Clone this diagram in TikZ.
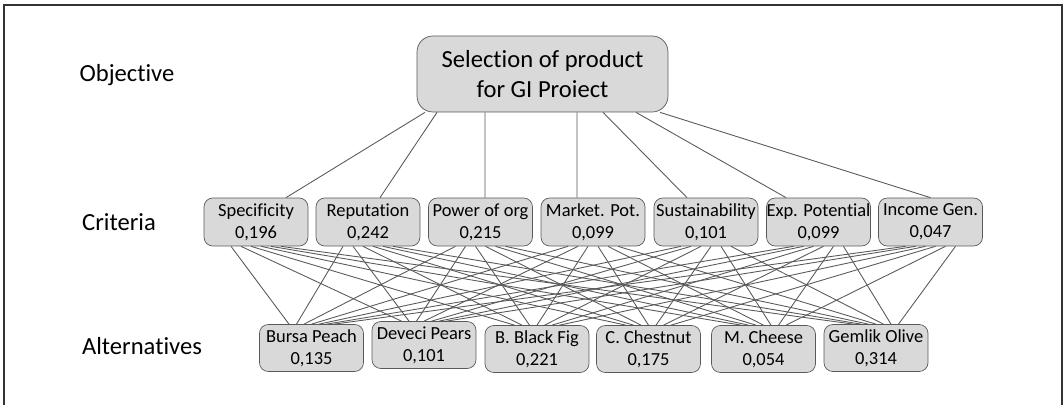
\documentclass[tikz,border=0pt]{standalone}
\usepackage{fontspec}
\setmainfont[Ligatures=NoCommon]{Carlito}
\tikzstyle{crit} = [draw=black!65, fill=gray!30, rounded corners=5pt, minimum width=2.08cm, minimum height=0.96cm, inner sep=0pt, align=center, font={\fontsize{10.5}{12.5}\selectfont}]
\tikzstyle{alt} = [crit, minimum height=0.94cm]
\tikzstyle{goal} = [crit, minimum width=5.02cm, minimum height=1.52cm, rounded corners=9pt, font={\fontsize{14}{17}\selectfont}]
\tikzstyle{level} = [font={\fontsize{14}{17}\selectfont}]
\tikzstyle{link} = [draw=black!65, line width=0.5pt]
\tikzstyle{frame} = [draw=black!80, line width=1pt]

\begin{document}
\begin{tikzpicture}[x=0.02cm, y=-0.02cm]
  \useasboundingbox (0,0) rectangle (1064,405);
  \draw[frame] (4,405) -- (4,5) -- (1062,5) -- (1062,405);
  % levels
  \node[level](lo) at (127,75){Objective};
  \node[level](lc) at (119,222){Criteria};
  \node[level](la) at (142,346){Alternatives};
  % goal
  \node[goal](o) at (542.5,74){Selection of product\\for GI Proiect};
  % criteria
  \node[crit](c1) at (256,222){Specificity\\0,196};
  \node[crit](c2) at (368,222){Reputation\\0,242};
  \node[crit](c3) at (480.5,222){Power of org\\0,215};
  \node[crit](c4) at (593,222){Market. Pot.\\0,099};
  \node[crit](c5) at (706,222){Sustainability\\0,101};
  \node[crit](c6) at (818.5,222){Exp. Potential\\0,099};
  \node[crit](c7) at (930.5,222){Income Gen.\\0,047};
  % alternatives
  \node[alt](a1) at (311.5,348){Bursa Peach\\0,135};
  \node[alt](a2) at (424,345){Deveci Pears\\0,101};
  \node[alt](a3) at (537,349){B. Black Fig\\0,221};
  \node[alt](a4) at (648.5,349){C. Chestnut\\0,175};
  \node[alt](a5) at (763.5,349){M. Cheese\\0,054};
  \node[alt](a6) at (876,348){Gemlik Olive\\0,314};
  % goal to criteria
  \draw[link]([xshift=-2.35cm]o.south)--([xshift=0.6cm]c1.north);
  \draw[link]([xshift=-2.11cm]o.south)--([xshift=0.24cm]c2.north);
  \draw[link]([xshift=-1.15cm]o.south)--([xshift=0.09cm]c3.north);
  \draw[link]([xshift=0.69cm]o.south)--([xshift=-0.32cm]c4.north);
  \draw[link]([xshift=1.21cm]o.south)--([xshift=-0.38cm]c5.north);
  \draw[link]([xshift=1.87cm]o.south)--([xshift=-0.65cm]c6.north);
  \draw[link]([xshift=2.35cm]o.south)--(c7.north);
  % criteria to alternatives
  \foreach \i in {1,...,7}
    \foreach \j in {1,...,6}
      \draw[link]([xshift={(\j-3.5)*0.2cm}]c\i.south)--([xshift={(\i-4)*0.15cm}]a\j.north);
\end{tikzpicture}
\end{document}
